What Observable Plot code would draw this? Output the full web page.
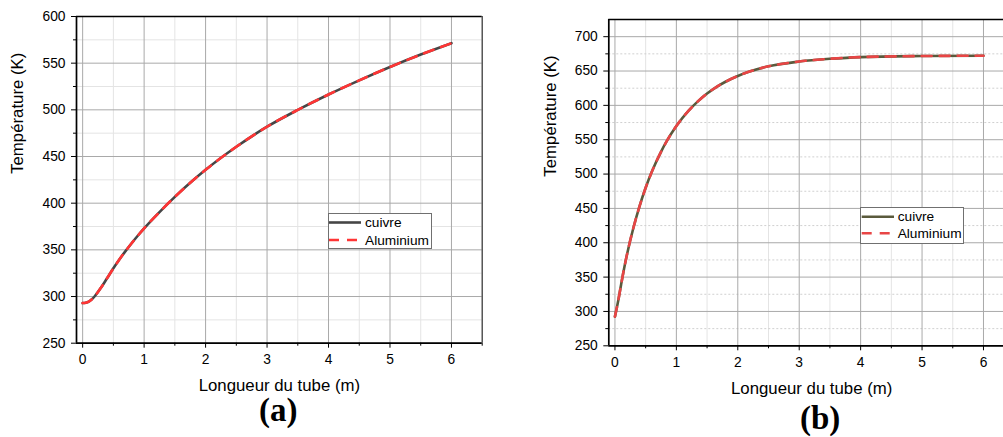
<!DOCTYPE html>
<html>
<head>
<meta charset="utf-8">
<script src="https://cdn.jsdelivr.net/npm/d3@7"></script>
<script src="https://cdn.jsdelivr.net/npm/@observablehq/plot@0.6"></script>
<style>
html,body{margin:0;padding:0;background:#fff;}
#root{position:relative;width:1003px;height:437px;overflow:hidden;background:#fff;}
.chart{position:absolute;top:0;}
.legend{position:absolute;}
</style>
</head>
<body>
<div id="root"></div>
<script>
// ---------- data ----------
const seriesNames = ["cuivre", "Aluminium"];
const xTitle = "Longueur du tube (m)";
const yTitle = "Température (K)";
const panelTags = ["(a)", "(b)"];

const xMajorTicks = [0, 1, 2, 3, 4, 5, 6];
const xMinorTicks = [0.5, 1.5, 2.5, 3.5, 4.5, 5.5, 6.5];

const yMajorA = [250, 300, 350, 400, 450, 500, 550, 600];
const yMinorA = [275, 325, 375, 425, 475, 525, 575];
const yMajorB = [250, 300, 350, 400, 450, 500, 550, 600, 650, 700];
const yMinorB = [275, 325, 375, 425, 475, 525, 575, 625, 675];

// panel (a)
const lengthA = [0, 0.05, 0.1, 0.15, 0.2, 0.3, 0.4, 0.5, 0.6, 0.7, 0.8, 0.9, 1.0, 1.25, 1.5, 1.75, 2, 2.5, 3, 3.5, 4, 4.5, 5, 5.5, 6];
const cuivreA = [293, 293.4, 294.6, 297.0, 300.6, 309.6, 319.9, 330.2, 339.9, 348.9, 357.4, 365.4, 373.0, 390.5, 406.8, 421.8, 435.7, 460.4, 481.9, 499.9, 516.4, 531.6, 545.9, 559.2, 571.4];
const aluminiumA = [293, 293.4, 294.6, 297.0, 300.6, 309.6, 319.9, 330.2, 339.9, 348.9, 357.4, 365.4, 373.0, 390.5, 406.8, 421.8, 435.7, 460.4, 481.9, 499.9, 516.4, 531.6, 545.9, 559.2, 571.4];

// panel (b)
const lengthB = [0, 0.05, 0.1, 0.15, 0.2, 0.3, 0.4, 0.5, 0.6, 0.75, 0.85, 1, 1.2, 1.35, 1.5, 1.65, 1.8, 2, 2.5, 3, 3.5, 4, 5, 6];
const cuivreB = [292.5, 314.0, 339.0, 363.0, 384.5, 421.5, 453.0, 480.0, 503.2, 532.4, 548.9, 569.9, 592.3, 605.8, 617.2, 626.6, 634.4, 642.8, 656.8, 663.8, 667.8, 670.3, 671.8, 672.3];
const aluminiumB = [292.5, 314.0, 339.0, 363.0, 384.5, 421.5, 453.0, 480.0, 503.2, 532.4, 548.9, 569.9, 592.3, 605.8, 617.2, 626.6, 634.4, 642.8, 656.8, 663.8, 667.8, 670.3, 671.8, 672.3];

// ---------- drawing ----------
const root = document.getElementById("root");
const sans = "'Liberation Sans', Arial, sans-serif";
const serif = "'Liberation Serif', 'Times New Roman', serif";

function makePanel(cfg) {
  const cu = cfg.lengths.map((x, i) => ({x, t: cfg.cuivre[i]}));
  const al = cfg.lengths.map((x, i) => ({x, t: cfg.alu[i]}));
  const [x0, x1] = cfg.xDomain;
  const [y0, y1] = cfg.yDomain;
  const inX = v => v >= x0 && v <= x1;
  const xMinor = xMinorTicks.filter(inX);
  const marks = [
    Plot.gridX(xMinor, {stroke: "#e4e4e4", strokeOpacity: 1}),
    Plot.gridY(cfg.yMinor, {stroke: cfg.minorDash ? "#d0d0d0" : "#e4e4e4", strokeOpacity: 1, strokeDasharray: cfg.minorDash || null}),
    Plot.gridX(xMajorTicks, {stroke: "#a9a9a9", strokeOpacity: 1}),
    Plot.gridY(cfg.yMajor, {stroke: "#a9a9a9", strokeOpacity: 1}),
    Plot.axisX(xMajorTicks, {tickSize: 5, tickPadding: 6, label: null, fontSize: 13.8}),
    Plot.axisX(xMinor, {tickSize: 3, tickFormat: () => "", label: null}),
    Plot.axisY(cfg.yMajor, {tickSize: 5, tickPadding: 6, label: null, fontSize: 13.8}),
    Plot.axisY(cfg.yMinor, {tickSize: 3, tickFormat: () => "", label: null}),
    Plot.ruleY([y1], {stroke: "#000", strokeWidth: 1.3}),
  ];
  if (cfg.rightFrame) marks.push(Plot.ruleX([x1], {stroke: "#333", strokeWidth: 1.2}));
  marks.push(
    Plot.ruleX([x0], {stroke: "#000", strokeWidth: 1.7}),
    Plot.ruleY([y0], {stroke: "#000", strokeWidth: 1.7}),
    Plot.line(cu, {x: "x", y: "t", stroke: cfg.cuColor, strokeWidth: 2.6, curve: "monotone-x"}),
    Plot.line(al, {x: "x", y: "t", stroke: cfg.alColor, strokeWidth: 2.6, strokeDasharray: "10,8", curve: "monotone-x"}),
    Plot.text([xTitle], {text: d => d, frameAnchor: "bottom", dx: cfg.titleDx, dy: cfg.titleDy, fontSize: 16.8, fill: "#000"}),
    Plot.text([yTitle], {text: d => d, frameAnchor: "left", rotate: -90, dx: cfg.yTitleDx, dy: -6, fontSize: 16.8, fill: "#000"}),
    Plot.text([cfg.tag], {text: d => d, frameAnchor: "bottom", dx: cfg.tagDx, dy: cfg.tagDy, fontSize: 33, fontWeight: "bold", fontFamily: serif, fill: "#000"})
  );
  const svg = Plot.plot({
    width: cfg.width,
    height: 437,
    marginLeft: cfg.marginLeft,
    marginRight: cfg.marginRight,
    marginTop: cfg.marginTop,
    marginBottom: cfg.marginBottom,
    x: {domain: cfg.xDomain},
    y: {domain: cfg.yDomain},
    style: {fontFamily: sans, fontSize: "13.8px", color: "#000", background: "transparent", overflow: "visible"},
    marks
  });
  svg.classList.add("chart");
  svg.style.left = cfg.left + "px";
  root.appendChild(svg);

  // legend
  const lg = d3.select(root).append("svg")
    .attr("class", "legend")
    .attr("width", cfg.legend.w).attr("height", cfg.legend.h)
    .style("left", cfg.legend.x + "px").style("top", cfg.legend.y + "px");
  lg.append("rect").attr("x", 0.5).attr("y", 0.5)
    .attr("width", cfg.legend.w - 1).attr("height", cfg.legend.h - 1)
    .attr("fill", "#fff").attr("stroke", "#707070").attr("stroke-width", 1);
  const styles = [{c: cfg.cuColor, dash: null}, {c: cfg.alColor, dash: "10,8"}];
  seriesNames.forEach((name, i) => {
    const cy = cfg.legend.rows[i];
    lg.append("line").attr("x1", cfg.legend.l0).attr("x2", cfg.legend.l1)
      .attr("y1", cy).attr("y2", cy)
      .attr("stroke", styles[i].c).attr("stroke-width", 2.6)
      .attr("stroke-dasharray", styles[i].dash);
    lg.append("text").attr("x", cfg.legend.tx).attr("y", cy).attr("dy", "0.35em")
      .attr("font-family", sans).attr("font-size", 13.7).attr("fill", "#000")
      .text(name);
  });
}

makePanel({
  left: 0, width: 500,
  marginLeft: 76, marginRight: 18.3, marginTop: 16, marginBottom: 94.3,
  xDomain: [-0.1, 6.5], yDomain: [250, 600],
  yMajor: yMajorA, yMinor: yMinorA, minorDash: null,
  lengths: lengthA, cuivre: cuivreA, alu: aluminiumA,
  cuColor: "#464646", alColor: "#ff3535",
  rightFrame: true,
  titleDx: 0, titleDy: 48, yTitleDx: -58.7, tagDx: -1, tagDy: 78,
  tag: panelTags[0],
  legend: {x: 328, y: 213, w: 104, h: 36, rows: [9.5, 27], l0: 1, l1: 33, tx: 37}
});

makePanel({
  left: 500, width: 503,
  marginLeft: 108.3, marginRight: 0, marginTop: 19, marginBottom: 91.7,
  xDomain: [-0.1, 6.326], yDomain: [250, 725],
  yMajor: yMajorB, yMinor: yMinorB, minorDash: "2,2",
  lengths: lengthB, cuivre: cuivreB, alu: aluminiumB,
  cuColor: "#5a5a3c", alColor: "#e84545",
  rightFrame: false,
  titleDx: 5.5, titleDy: 47.7, yTitleDx: -58.3, tagDx: 14, tagDy: 83,
  tag: panelTags[1],
  legend: {x: 860, y: 207, w: 104, h: 37, rows: [9.7, 26.3], l0: 1.7, l1: 34, tx: 37.7}
});
</script>
</body>
</html>
